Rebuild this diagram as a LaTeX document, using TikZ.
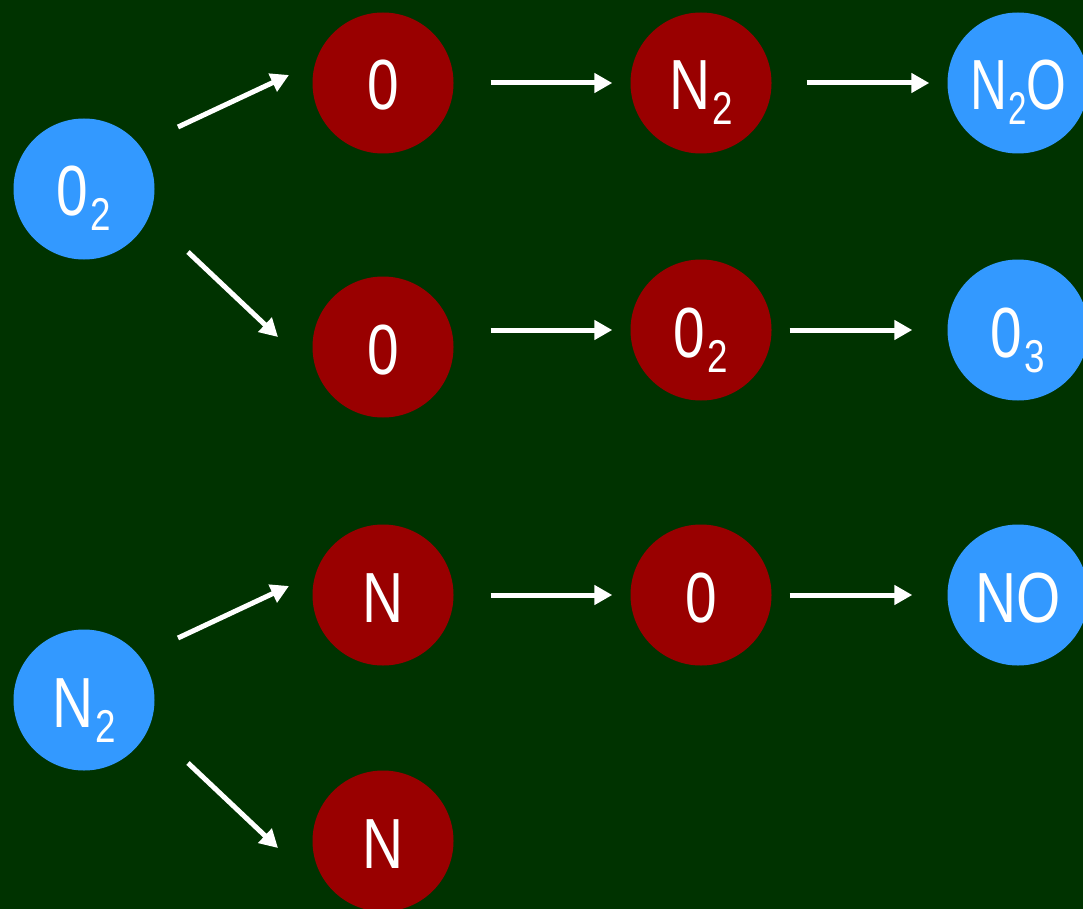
\documentclass[tikz,border=0pt]{standalone}
\usepackage{fontspec}
\usetikzlibrary{arrows.meta}
\newfontfamily\lab[FakeStretch=0.8]{Liberation Sans}
\definecolor{bgGreen}{HTML}{003300}
\definecolor{atomRed}{HTML}{990000}
\definecolor{atomBlue}{HTML}{3399FF}
% lowered index digit
\newcommand{\ix}[1]{\kern2pt\raisebox{-15pt}{\fontsize{46}{46}\selectfont #1}}
\tikzset{
  atom/.style={circle, minimum size=141pt, inner sep=0pt, text=white,
    font=\lab\fontsize{71}{71}\selectfont, text height=54pt, text depth=0pt},
  red atom/.style={atom, fill=atomRed},
  blue atom/.style={atom, fill=atomBlue},
  arr/.style={white, line width=5pt, -{Triangle[length=18pt,width=19pt]}}
}
\begin{document}
\begin{tikzpicture}[x=1pt, y=-1pt]
  \fill[bgGreen] (0,0) rectangle (1083,909);
  \useasboundingbox (0,0) rectangle (1083,909);

  % sources
  \node[blue atom] (o2) at (84,189) {0\ix{2}};
  \node[blue atom] (n2) at (84,700) {N\ix{2}};

  % first column
  \node[red atom] (r1a) at (383,83)  {0};
  \node[red atom] (r2a) at (383,347) {0};
  \node[red atom] (r3a) at (383,595) {N};
  \node[red atom] (r4a) at (383,841) {N};

  % second column
  \node[red atom] (r1b) at (701,83)  {N\ix{2}};
  \node[red atom] (r2b) at (701,330) {0\ix{2}};
  \node[red atom] (r3b) at (701,595) {0};

  % products
  \node[blue atom] (p1) at (1018,83)  {\scalebox{0.9}[1]{N\ix{2}\kern-1pt O}};
  \node[blue atom] (p2) at (1018,330) {0\ix{3}};
  \node[blue atom] (p3) at (1018,595) {NO};

  % splitting arrows
  \draw[arr] ([shift={(94,-62)}]o2.center) -- ([shift={(-94,-8)}]r1a.center);
  \draw[arr] ([shift={(104,63)}]o2.center) -- ([shift={(-105,-10)}]r2a.center);
  \draw[arr] ([shift={(94,-62)}]n2.center) -- ([shift={(-94,-9)}]r3a.center);
  \draw[arr] ([shift={(104,63)}]n2.center) -- ([shift={(-105,7)}]r4a.center);

  % reaction chains
  \draw[arr] ([xshift=37pt]r1a.east) -- ([xshift=-18pt]r1b.west);
  \draw[arr] ([xshift=35pt]r1b.east) -- ([xshift=-18pt]p1.west);
  \draw[arr] ([xshift=37pt]r2a.east |- r2b.west) -- ([xshift=-18pt]r2b.west);
  \draw[arr] ([xshift=18pt]r2b.east) -- ([xshift=-35pt]p2.west);
  \draw[arr] ([xshift=37pt]r3a.east) -- ([xshift=-18pt]r3b.west);
  \draw[arr] ([xshift=18pt]r3b.east) -- ([xshift=-35pt]p3.west);
\end{tikzpicture}
\end{document}
